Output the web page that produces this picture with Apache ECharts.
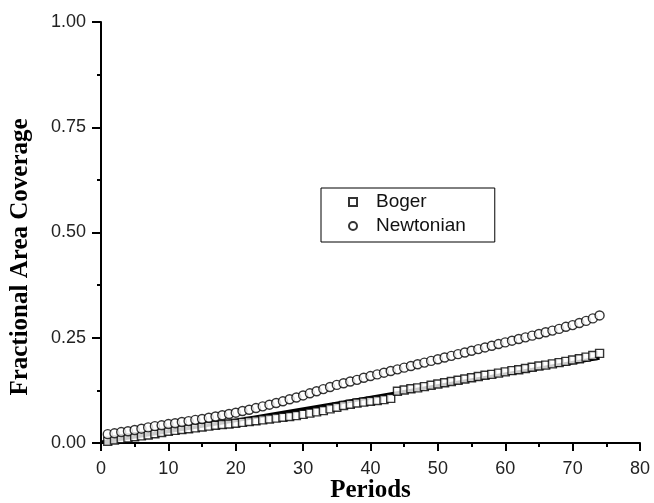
<!DOCTYPE html>
<html>
<head>
<meta charset="utf-8">
<script src="https://cdn.jsdelivr.net/npm/echarts@6/dist/echarts.min.js"></script>
<style>
  html, body { margin: 0; padding: 0; background: #fff; }
  #chart { width: 654px; height: 503px; }
</style>
</head>
<body>
<div id="chart"></div>
<script>
// Periods sampled for both fluids
const periods = [1,2,3,4,5,6,7,8,9,10,11,12,13,14,15,16,17,18,19,20,
  21,22,23,24,25,26,27,28,29,30,31,32,33,34,35,36,37,38,39,40,
  41,42,43,44,45,46,47,48,49,50,51,52,53,54,55,56,57,58,59,60,
  61,62,63,64,65,66,67,68,69,70,71,72,73,74];

// Fractional area coverage, Boger fluid
const boger = [0.004,0.007,0.010,0.012,0.015,0.017,0.019,0.022,0.025,0.028,
  0.030,0.032,0.034,0.036,0.038,0.040,0.042,0.044,0.045,0.047,
  0.049,0.051,0.053,0.055,0.057,0.059,0.061,0.063,0.065,0.068,
  0.071,0.074,0.077,0.081,0.085,0.089,0.092,0.095,0.097,0.099,
  0.101,0.103,0.106,0.123,0.126,0.129,0.131,0.134,0.137,0.140,
  0.143,0.146,0.149,0.152,0.155,0.158,0.161,0.163,0.166,0.169,
  0.172,0.174,0.177,0.180,0.183,0.185,0.188,0.191,0.194,0.197,
  0.200,0.204,0.208,0.213];

// Fractional area coverage, Newtonian fluid
const newtonian = [0.021,0.023,0.026,0.028,0.031,0.034,0.037,0.040,0.042,0.045,
  0.047,0.050,0.052,0.055,0.057,0.060,0.063,0.066,0.069,0.072,
  0.076,0.079,0.083,0.087,0.091,0.095,0.099,0.104,0.108,0.113,
  0.118,0.123,0.128,0.133,0.138,0.142,0.146,0.150,0.155,0.159,
  0.163,0.167,0.171,0.175,0.179,0.183,0.187,0.191,0.195,0.199,
  0.203,0.207,0.211,0.215,0.219,0.223,0.227,0.231,0.235,0.239,
  0.243,0.247,0.251,0.255,0.259,0.263,0.267,0.271,0.276,0.280,
  0.285,0.290,0.296,0.303];

// Solid trend line through the Boger data
const trendX = [0, 18, 36, 55, 74];
const trendY = [0.002, 0.048, 0.097, 0.150, 0.202];

// Axis tick values
const xTicks = [0, 10, 20, 30, 40, 50, 60, 70, 80];
const yTicks = [0.00, 0.25, 0.50, 0.75, 1.00];

const pair = (xs, ys) => xs.map((x, i) => [x, ys[i]]);

const tickFont = { color: '#222', fontSize: 18, fontFamily: '"Liberation Sans", Arial, sans-serif' };
const axisLine = { show: true, onZero: false, lineStyle: { color: '#000', width: 2 } };

const chart = echarts.init(document.getElementById('chart'), null, { renderer: 'canvas' });
chart.setOption({
  backgroundColor: '#fff',
  animation: false,
  grid: { left: 101, right: 14, top: 22, bottom: 60, containLabel: false, outerBoundsMode: 'none' },
  xAxis: {
    type: 'value',
    min: xTicks[0], max: xTicks[xTicks.length - 1], interval: 10,
    name: 'Periods', nameLocation: 'middle', nameGap: 35, nameMoveOverlap: false,
    nameTextStyle: { color: '#000', fontSize: 25, fontWeight: 'bold', verticalAlign: 'top', fontFamily: '"Liberation Serif", "Times New Roman", serif' },
    axisLine: axisLine,
    axisTick: { show: true, inside: false, length: 8, lineStyle: { color: '#000', width: 2 } },
    minorTick: { show: true, splitNumber: 2, length: 4, lineStyle: { color: '#000', width: 2 } },
    axisLabel: Object.assign({ margin: 17, formatter: v => String(v) }, tickFont),
    splitLine: { show: false }
  },
  yAxis: {
    type: 'value',
    min: yTicks[0], max: yTicks[yTicks.length - 1], interval: 0.25,
    axisLine: axisLine,
    axisTick: { show: true, inside: false, length: 9, lineStyle: { color: '#000', width: 2 } },
    minorTick: { show: true, splitNumber: 2, length: 4, lineStyle: { color: '#000', width: 2 } },
    axisLabel: Object.assign({ margin: 15, formatter: v => v.toFixed(2) }, tickFont),
    splitLine: { show: false }
  },
  legend: {
    data: ['Boger', 'Newtonian'],
    orient: 'vertical',
    left: 321, top: 188,
    padding: [4, 29, 6, 27],
    itemGap: 4,
    itemWidth: 8, itemHeight: 8,
    borderColor: '#000', borderWidth: 1,
    backgroundColor: '#fff',
    textStyle: { color: '#111', fontSize: 19, lineHeight: 20, padding: [0, 0, 0, 14], fontFamily: '"Liberation Sans", Arial, sans-serif' }
  },
  graphic: [{
    type: 'text',
    x: 21, y: 257,
    rotation: Math.PI / 2,
    style: {
      text: 'Fractional Area Coverage',
      font: 'bold 25px "Liberation Serif", "Times New Roman", serif',
      fill: '#000',
      textAlign: 'center',
      textVerticalAlign: 'middle'
    }
  }],
  series: [
    {
      name: 'trend',
      type: 'line',
      data: pair(trendX, trendY),
      symbol: 'none',
      lineStyle: { color: '#000', width: 3.5 },
      z: 1,
      silent: true
    },
    {
      name: 'Boger',
      type: 'scatter',
      data: pair(periods, boger),
      symbol: 'rect',
      symbolSize: 8,
      itemStyle: { color: '#fff', borderColor: '#000', borderWidth: 1.4 },
      z: 2
    },
    {
      name: 'Newtonian',
      type: 'scatter',
      data: pair(periods, newtonian),
      symbol: 'circle',
      symbolSize: 9,
      itemStyle: { color: '#fff', borderColor: '#000', borderWidth: 1.4 },
      z: 3
    }
  ]
});
</script>
</body>
</html>
